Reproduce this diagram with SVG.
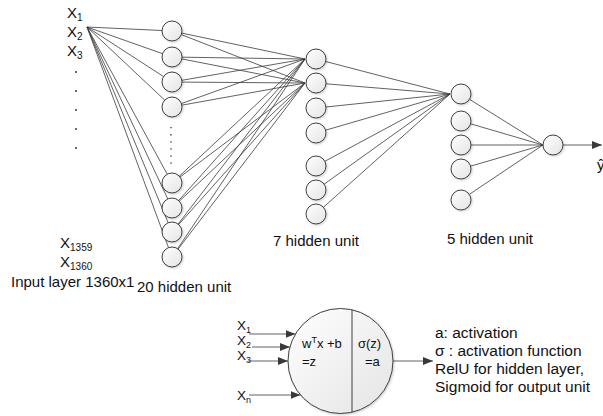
<svg xmlns="http://www.w3.org/2000/svg" width="603" height="416" viewBox="0 0 603 416">
<style>
  text { font-family: "Liberation Sans", Arial, sans-serif; fill: #111; }
  .lbl { font-size: 15px; }
  .xl { font-size: 15px; }
  .xb { font-size: 13.5px; }
  .sub { font-size: 10px; }
  .subb { font-size: 9px; }
  .nt { font-size: 13px; }
  .rt { font-size: 15.5px; }
  .node { fill: url(#g); stroke: #404040; stroke-width: 1; filter: url(#sh); }
  .c line { stroke: #3a3a3a; stroke-width: 0.8; }
  .arr { stroke: #3a3a3a; stroke-width: 1; marker-end: url(#ah); }
</style>
<defs>
  <linearGradient id="g" x1="0" y1="0" x2="1" y2="1">
    <stop offset="0" stop-color="#ffffff"/>
    <stop offset="1" stop-color="#e4e4e4"/>
  </linearGradient>
  <filter id="sh" x="-20%" y="-20%" width="150%" height="150%">
    <feDropShadow dx="1" dy="1" stdDeviation="0.8" flood-color="#000" flood-opacity="0.2"/>
  </filter>
  <marker id="ah" markerWidth="10" markerHeight="8" refX="10" refY="4" orient="auto" markerUnits="userSpaceOnUse">
    <path d="M0,0 L10,4 L0,8 Z" fill="#3a3a3a"/>
  </marker>
</defs>
<rect width="603" height="416" fill="#fff"/>

<g id="connectors" class="c">
  <line x1="87" y1="27" x2="162" y2="30.5"/>
  <line x1="87" y1="27" x2="162.6" y2="53.7"/>
  <line x1="87" y1="27" x2="163.6" y2="76.6"/>
  <line x1="87" y1="27" x2="164.7" y2="100.1"/>
  <line x1="87" y1="27" x2="167.2" y2="174.2"/>
  <line x1="87" y1="27" x2="167.8" y2="199"/>
  <line x1="87" y1="27" x2="168.2" y2="222.8"/>
  <line x1="87" y1="27" x2="168.5" y2="247.6"/>
  <line x1="181.8" y1="33.1" x2="305" y2="59"/>
  <line x1="181.3" y1="34.6" x2="305" y2="83"/>
  <line x1="182" y1="57.2" x2="305" y2="59"/>
  <line x1="181.8" y1="58.9" x2="305" y2="83"/>
  <line x1="181.9" y1="80.3" x2="305" y2="59"/>
  <line x1="182" y1="82.1" x2="305" y2="83"/>
  <line x1="181.4" y1="103.6" x2="305" y2="59"/>
  <line x1="181.8" y1="105.2" x2="305" y2="83"/>
  <line x1="179.3" y1="176.2" x2="305" y2="59"/>
  <line x1="180" y1="177" x2="305" y2="83"/>
  <line x1="178.7" y1="200.5" x2="305" y2="59"/>
  <line x1="179.3" y1="201.2" x2="305" y2="83"/>
  <line x1="178.1" y1="224.1" x2="305" y2="59"/>
  <line x1="178.7" y1="224.5" x2="305" y2="83"/>
  <line x1="177.6" y1="248.7" x2="305" y2="59"/>
  <line x1="178.1" y1="249.1" x2="305" y2="83"/>
  <line x1="325.7" y1="61.5" x2="450" y2="94"/>
  <line x1="326" y1="83.8" x2="450" y2="94"/>
  <line x1="325.9" y1="107" x2="450" y2="94"/>
  <line x1="325.6" y1="130.2" x2="450" y2="94"/>
  <line x1="324.8" y1="161.3" x2="450" y2="94"/>
  <line x1="324.1" y1="184.2" x2="450" y2="94"/>
  <line x1="323.4" y1="207.3" x2="450" y2="94"/>
  <line x1="469.5" y1="99.3" x2="543" y2="145"/>
  <line x1="470.6" y1="123.8" x2="543" y2="145"/>
  <line x1="471" y1="145" x2="543" y2="145"/>
  <line x1="470.6" y1="166.2" x2="543" y2="145"/>
  <line x1="469.3" y1="194.4" x2="543" y2="145"/>
  <line class="arr" x1="563" y1="145" x2="602" y2="145"/>
  <line class="arr" x1="249" y1="334" x2="295.5" y2="334"/>
  <line class="arr" x1="252" y1="347" x2="290" y2="347"/>
  <line class="arr" x1="248" y1="361" x2="288" y2="361"/>
  <line class="arr" x1="249" y1="395" x2="300.5" y2="395"/>
  <line class="arr" x1="393" y1="361" x2="433" y2="361"/>
</g>

<g id="inputs">
  <text class="xl" x="67" y="18">X<tspan class="sub" dy="3">1</tspan></text>
  <text class="xl" x="67" y="37">X<tspan class="sub" dy="3">2</tspan></text>
  <text class="xl" x="67" y="56">X<tspan class="sub" dy="3">3</tspan></text>
  <g fill="#222">
    <circle cx="76" cy="72" r="0.9"/>
    <circle cx="76" cy="91" r="0.9"/>
    <circle cx="76" cy="110" r="0.9"/>
    <circle cx="76" cy="129" r="0.9"/>
    <circle cx="76" cy="148" r="0.9"/>
  </g>
  <text class="xl" x="60" y="248">X<tspan class="sub" dy="3">1359</tspan></text>
  <text class="xl" x="60" y="267">X<tspan class="sub" dy="3">1360</tspan></text>
  <text class="lbl" x="11" y="287" font-size="13.5">Input layer 1360x1</text>
</g>

<g id="layer1">
  <circle class="node" cx="172" cy="31" r="10"/>
  <circle class="node" cx="172" cy="57" r="10"/>
  <circle class="node" cx="172" cy="82" r="10"/>
  <circle class="node" cx="172" cy="107" r="10"/>
  <line x1="171" y1="127" x2="171" y2="165" stroke="#333" stroke-width="1.3" stroke-dasharray="1.3 5.8"/>
  <circle class="node" cx="172" cy="183" r="10"/>
  <circle class="node" cx="172" cy="208" r="10"/>
  <circle class="node" cx="172" cy="232" r="10"/>
  <circle class="node" cx="172" cy="257" r="10"/>
  <text class="lbl" x="137" y="292">20 hidden unit</text>
</g>

<g id="layer2">
  <circle class="node" cx="316" cy="59" r="10"/>
  <circle class="node" cx="316" cy="83" r="10"/>
  <circle class="node" cx="316" cy="108" r="10"/>
  <circle class="node" cx="316" cy="133" r="10"/>
  <circle class="node" cx="316" cy="166" r="10"/>
  <circle class="node" cx="316" cy="190" r="10"/>
  <circle class="node" cx="316" cy="214" r="10"/>
  <text class="lbl" x="273" y="246">7 hidden unit</text>
</g>

<g id="layer3">
  <circle class="node" cx="461" cy="94" r="10"/>
  <circle class="node" cx="461" cy="121" r="10"/>
  <circle class="node" cx="461" cy="145" r="10"/>
  <circle class="node" cx="461" cy="169" r="10"/>
  <circle class="node" cx="461" cy="200" r="10"/>
  <text class="lbl" x="447" y="244">5 hidden unit</text>
</g>

<g id="output">
  <circle class="node" cx="553" cy="145" r="10"/>
  <text class="lbl" x="597" y="170">ŷ</text>
</g>

<g id="neuron">
  <text class="xb" x="237" y="330">X<tspan class="subb" dy="2.5">1</tspan></text>
  <text class="xb" x="237" y="345">X<tspan class="subb" dy="2.5">2</tspan></text>
  <text class="xb" x="237" y="360">X<tspan class="subb" dy="2.5">3</tspan></text>
  <text class="xb" x="237" y="400">X<tspan class="subb" dy="2.5">n</tspan></text>
  <circle class="node" cx="340.5" cy="361" r="52.5"/>
  <line x1="352" y1="309.8" x2="352" y2="412.2" stroke="#404040" stroke-width="1"/>
  <text class="nt" x="302" y="348">w<tspan font-size="9" dy="-5">T</tspan><tspan dy="5">x +b</tspan></text>
  <text class="nt" x="302" y="366">=z</text>
  <text class="nt" x="358" y="348">σ(z)</text>
  <text class="nt" x="365" y="366">=a</text>
  <text class="rt" x="435" y="338">a: activation</text>
  <text class="rt" x="435" y="356">σ : activation function</text>
  <text class="rt" x="435" y="374">RelU for hidden layer,</text>
  <text class="rt" x="435" y="392">Sigmoid for output unit</text>
</g>
</svg>
